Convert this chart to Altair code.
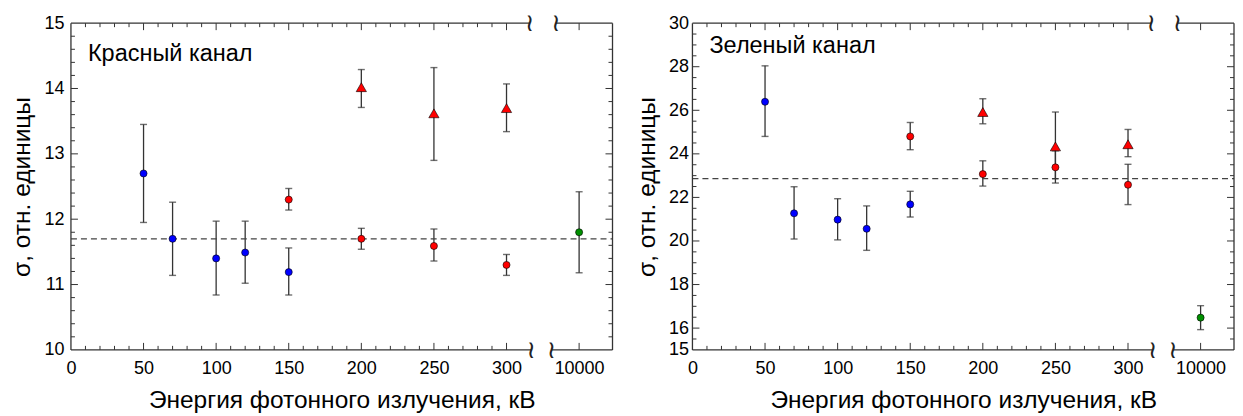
import altair as alt
import pandas as pd

# ---------------- data ----------------
X_LABEL_VALUES = [0, 50, 100, 150, 200, 250, 300, 350]
X_TICK_MAJOR = [50, 100, 150, 200, 250, 300, 350]
X_TICK_MINOR = [10, 20, 30, 40, 60, 70, 80, 90, 110, 120, 130, 140, 160, 170, 180, 190,
                210, 220, 230, 240, 260, 270, 280, 290]
BREAK_ENERGY = 10000
BREAK_POS = 350
X_DOMAIN = [0, 373]
BREAK_TOP = [316, 334]
BREAK_BOTTOM = [317, 331]
X_TITLE = "Энергия фотонного излучения, кВ"
Y_TITLE = "σ, отн. единицы"

# Red channel
RED_BLUE_E = [50, 70, 100, 120, 150]
RED_BLUE_V = [12.70, 11.70, 11.40, 11.49, 11.19]
RED_BLUE_LO = [11.95, 11.14, 10.84, 11.02, 10.84]
RED_BLUE_HI = [13.45, 12.26, 11.97, 11.97, 11.56]
RED_CIRC_E = [150, 200, 250, 300]
RED_CIRC_V = [12.30, 11.70, 11.59, 11.30]
RED_CIRC_LO = [12.14, 11.54, 11.36, 11.14]
RED_CIRC_HI = [12.47, 11.86, 11.85, 11.46]
RED_TRI_E = [200, 250, 300]
RED_TRI_V = [14.02, 13.62, 13.70]
RED_TRI_LO = [13.71, 12.90, 13.34]
RED_TRI_HI = [14.29, 14.32, 14.07]
RED_GRN_E = [10000]
RED_GRN_V = [11.80]
RED_GRN_LO = [11.18]
RED_GRN_HI = [12.42]
RED_MEAN = 11.70
RED_Y_DOMAIN = [10, 15]
RED_Y_LABELS = [10, 11, 12, 13, 14, 15]
RED_Y_MAJOR = [11, 12, 13, 14]
RED_Y_MINOR = [10.2, 10.4, 10.6, 10.8, 11.2, 11.4, 11.6, 11.8, 12.2, 12.4, 12.6, 12.8,
               13.2, 13.4, 13.6, 13.8, 14.2, 14.4, 14.6, 14.8]
RED_LABEL = "Красный канал"

# Green channel
GRN_BLUE_E = [50, 70, 100, 120, 150]
GRN_BLUE_V = [26.39, 21.27, 20.98, 20.56, 21.68]
GRN_BLUE_LO = [24.80, 20.09, 20.05, 19.57, 21.10]
GRN_BLUE_HI = [28.04, 22.49, 21.94, 21.61, 22.28]
GRN_CIRC_E = [150, 200, 250, 300]
GRN_CIRC_V = [24.80, 23.07, 23.38, 22.58]
GRN_CIRC_LO = [24.19, 22.52, 22.66, 21.67]
GRN_CIRC_HI = [25.44, 23.68, 24.14, 23.52]
GRN_TRI_E = [200, 250, 300]
GRN_TRI_V = [25.92, 24.34, 24.44]
GRN_TRI_LO = [25.38, 22.86, 23.87]
GRN_TRI_HI = [26.53, 25.92, 25.12]
GRN_GRN_E = [10000]
GRN_GRN_V = [16.48]
GRN_GRN_LO = [15.93]
GRN_GRN_HI = [17.03]
GRN_MEAN = 22.86
GRN_Y_DOMAIN = [15, 30]
GRN_Y_LABELS = [15, 16, 18, 20, 22, 24, 26, 28, 30]
GRN_Y_MAJOR = [16, 18, 20, 22, 24, 26, 28]
GRN_Y_MINOR = [15.5, 16.5, 17, 17.5, 18.5, 19, 19.5, 20.5, 21, 21.5, 22.5, 23, 23.5,
               24.5, 25, 25.5, 26.5, 27, 27.5, 28.5, 29, 29.5]
GRN_LABEL = "Зеленый канал"

SERIES_DOMAIN = ["blue", "red", "green"]
SERIES_COLORS = ["#0000FF", "#FF0000", "#009000"]

FONT = "Liberation Sans"
AX = "#333333"
W, H = 542, 327
LABEL_SIZE = 18
TITLE_SIZE = 24.5


def to_pos(e):
    return e if e <= 300 else BREAK_POS


def frame(groups):
    rows = []
    for name, E, V, LO, HI, kind in groups:
        for e, v, lo, hi in zip(E, V, LO, HI):
            rows.append(dict(energy=e, pos=to_pos(e), value=v, lo=lo, hi=hi,
                             series=name, kind=kind))
    return pd.DataFrame(rows)


def panel(df, mean, ydom, ylabels, ymajor, yminor, label, label_y, label_pad):
    xs = alt.Scale(domain=X_DOMAIN, nice=False, zero=False)
    ys = alt.Scale(domain=ydom, nice=False, zero=False)
    xaxis = alt.Axis(values=X_LABEL_VALUES, labelExpr=f"datum.value == {BREAK_POS} ? '{BREAK_ENERGY}' : format(datum.value, 'd')",
                     ticks=False, tickSize=0, domain=False, grid=False, title=X_TITLE,
                     labelFont=FONT, labelFontSize=LABEL_SIZE, labelColor="black", labelPadding=10,
                     labelFlush=False, labelOverlap=False,
                     titleFont=FONT, titleFontSize=TITLE_SIZE, titleFontWeight="normal",
                     titleColor="black", titlePadding=11)
    yaxis = alt.Axis(values=ylabels, ticks=False, tickSize=0, domain=False, grid=False,
                     title=Y_TITLE, labelFont=FONT, labelFontSize=LABEL_SIZE, labelColor="black",
                     labelPadding=label_pad, labelFlush=False, labelOverlap=False,
                     titleFont=FONT, titleFontSize=TITLE_SIZE, titleFontWeight="normal",
                     titleColor="black", titlePadding=9)

    def X(f):
        return alt.X(f, scale=xs, axis=xaxis)

    def Y(f):
        return alt.Y(f, scale=ys, axis=yaxis)

    base = alt.Chart(df)
    err = base.mark_rule(color=AX, strokeWidth=1.3).encode(
        x=X("pos:Q"), y=Y("lo:Q"), y2="hi:Q")
    cap_hi = base.mark_tick(orient="horizontal", size=7, thickness=1.4, color=AX).encode(
        x=X("pos:Q"), y=Y("hi:Q"))
    cap_lo = base.mark_tick(orient="horizontal", size=7, thickness=1.4, color=AX).encode(
        x=X("pos:Q"), y=Y("lo:Q"))
    color = alt.Color("series:N", scale=alt.Scale(domain=SERIES_DOMAIN, range=SERIES_COLORS), legend=None)
    circ = base.transform_filter(alt.datum.kind == "circle").mark_circle(
        size=50, opacity=1, stroke="black", strokeWidth=0.6).encode(
        x=X("pos:Q"), y=Y("value:Q"), color=color)
    tri = base.transform_filter(alt.datum.kind == "triangle").mark_point(
        shape="triangle-up", filled=True, size=105, opacity=1, stroke="black",
        strokeWidth=0.6).encode(
        x=X("pos:Q"), y=Y("value:Q"), color=color)

    mean_rule = alt.Chart(pd.DataFrame({"m": [mean]})).mark_rule(
        color="#444", strokeDash=[6, 4], strokeWidth=1.2).encode(
        y=Y("m:Q"), x=alt.value(0), x2=alt.value(W))

    # ticks
    def xticks(vals, ln):
        d = alt.Chart(pd.DataFrame({"t": vals}))
        b = d.mark_rule(color=AX, strokeWidth=1).encode(
            x=X("t:Q"), y=alt.value(H), y2=alt.value(H - ln))
        t = d.mark_rule(color=AX, strokeWidth=1).encode(
            x=X("t:Q"), y=alt.value(0), y2=alt.value(ln))
        return [b, t]

    def yticks(vals, ln):
        d = alt.Chart(pd.DataFrame({"t": vals}))
        l = d.mark_rule(color=AX, strokeWidth=1).encode(
            y=Y("t:Q"), x=alt.value(0), x2=alt.value(ln))
        r = d.mark_rule(color=AX, strokeWidth=1).encode(
            y=Y("t:Q"), x=alt.value(W), x2=alt.value(W - ln))
        return [l, r]

    one = alt.Chart(pd.DataFrame({"a": [0]}))
    left_line = one.mark_rule(color=AX, strokeWidth=1.3).encode(
        x=alt.value(0), y=alt.value(0), y2=alt.value(H))
    right_line = one.mark_rule(color=AX, strokeWidth=1.3).encode(
        x=alt.value(W), y=alt.value(0), y2=alt.value(H))
    top_seg = alt.Chart(pd.DataFrame({"a": [X_DOMAIN[0], BREAK_TOP[1]],
                                      "b": [BREAK_TOP[0], X_DOMAIN[1]]})).mark_rule(
        color=AX, strokeWidth=1.3).encode(
        x=X("a:Q"), x2="b:Q", y=alt.value(0))
    bot_seg = alt.Chart(pd.DataFrame({"a": [X_DOMAIN[0], BREAK_BOTTOM[1]],
                                      "b": [BREAK_BOTTOM[0], X_DOMAIN[1]]})).mark_rule(
        color=AX, strokeWidth=1.3).encode(
        x=X("a:Q"), x2="b:Q", y=alt.value(H))
    wav_top = alt.Chart(pd.DataFrame({"p": BREAK_TOP})).mark_text(
        text="≀", font="DejaVu Sans", fontSize=25, color="#222", baseline="middle").encode(
        x=X("p:Q"), y=alt.value(0))
    wav_bot = alt.Chart(pd.DataFrame({"p": BREAK_BOTTOM})).mark_text(
        text="≀", font="DejaVu Sans", fontSize=25, color="#222", baseline="middle").encode(
        x=X("p:Q"), y=alt.value(H))

    txt = alt.Chart(pd.DataFrame({"t": [label]})).mark_text(
        align="left", baseline="alphabetic", font=FONT, fontSize=23.5, color="black").encode(
        text="t:N", x=alt.value(17), y=alt.value(label_y))

    layers = [err, mean_rule, cap_hi, cap_lo, circ, tri]
    layers += xticks(X_TICK_MAJOR, 7) + xticks(X_TICK_MINOR, 4)
    layers += yticks(ymajor, 7) + yticks(yminor, 4)
    layers += [left_line, right_line, top_seg, bot_seg, wav_top, wav_bot, txt]
    return alt.layer(*layers).properties(width=W, height=H)


red_df = frame([
    ("blue", RED_BLUE_E, RED_BLUE_V, RED_BLUE_LO, RED_BLUE_HI, "circle"),
    ("red", RED_CIRC_E, RED_CIRC_V, RED_CIRC_LO, RED_CIRC_HI, "circle"),
    ("red", RED_TRI_E, RED_TRI_V, RED_TRI_LO, RED_TRI_HI, "triangle"),
    ("green", RED_GRN_E, RED_GRN_V, RED_GRN_LO, RED_GRN_HI, "circle"),
])
grn_df = frame([
    ("blue", GRN_BLUE_E, GRN_BLUE_V, GRN_BLUE_LO, GRN_BLUE_HI, "circle"),
    ("red", GRN_CIRC_E, GRN_CIRC_V, GRN_CIRC_LO, GRN_CIRC_HI, "circle"),
    ("red", GRN_TRI_E, GRN_TRI_V, GRN_TRI_LO, GRN_TRI_HI, "triangle"),
    ("green", GRN_GRN_E, GRN_GRN_V, GRN_GRN_LO, GRN_GRN_HI, "circle"),
])

left = panel(red_df, RED_MEAN, RED_Y_DOMAIN, RED_Y_LABELS, RED_Y_MAJOR, RED_Y_MINOR,
             RED_LABEL, 38, 7)
right = panel(grn_df, GRN_MEAN, GRN_Y_DOMAIN, GRN_Y_LABELS, GRN_Y_MAJOR, GRN_Y_MINOR,
              GRN_LABEL, 30, 4)

chart = alt.hconcat(left, right, spacing=20).properties(
    padding={"left": 1, "top": 3, "right": 0, "bottom": 0}
).configure_view(stroke=None).resolve_scale(color="independent")

chart.save("out.html", embed_options={"renderer": "svg", "actions": False})
